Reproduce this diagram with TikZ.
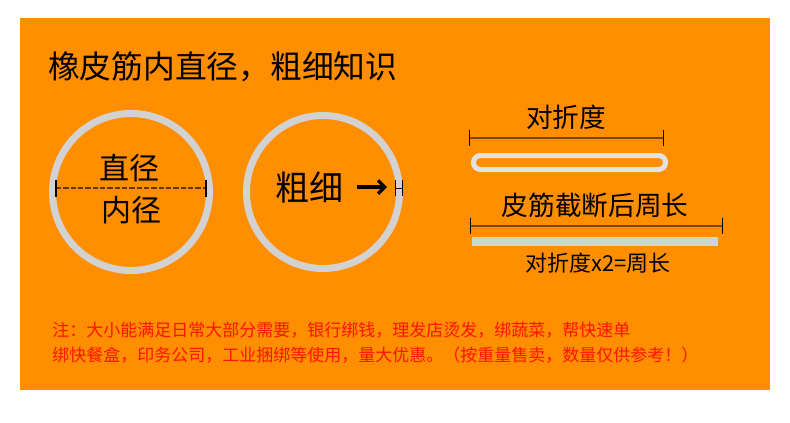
\documentclass[tikz,border=0pt]{standalone}
\usepackage{fontspec}
\setmainfont{Noto Sans CJK SC}
\usepackage{xcolor}
\usetikzlibrary{arrows.meta, calc}
\definecolor{bgorange}{HTML}{FF8E00}
\definecolor{ringgray}{HTML}{D2D2D2}
\definecolor{bargray}{HTML}{E2E2E2}
\definecolor{dimbrown}{HTML}{7A4600}
\definecolor{notered}{HTML}{FF1400}

\begin{document}
\begin{tikzpicture}[
  x=0.75pt, y=-0.75pt,
  ring/.style={draw=ringgray, line width=5.25pt},
  dimline/.style={line width=1.4pt, dimbrown,
    {Bar[width=11.5pt, line width=0.8pt, color=black]}-{Bar[width=11.5pt, line width=0.8pt, color=black]}},
  tick/.style={black, line width=0.8pt},
  title/.style={font=\fontsize{23.8pt}{28pt}\selectfont, inner sep=0pt, anchor=west},
  biglabel/.style={font=\fontsize{22.5pt}{26pt}\selectfont, inner sep=0pt},
  label/.style={font=\fontsize{20pt}{24pt}\selectfont, inner sep=0pt},
  small/.style={font=\fontsize{16.5pt}{19pt}\selectfont, inner sep=0pt},
  note/.style={font=\fontsize{12.75pt}{15pt}\selectfont, notered, inner sep=0pt, anchor=west}
]

% Page and background
\useasboundingbox (0,0) rectangle (790,422);
\fill[white] (0,0) rectangle (790,422);
\fill[bgorange] (20,18) rectangle (770,390);

% Title
\node[title] (heading) at (48,67) {橡皮筋内直径，粗细知识};

% Ring 1: inner diameter
\draw[ring] (131,192) circle (78.5);
\coordinate (diaL) at (56,188);
\coordinate (diaR) at (206,188);
\draw[line width=0.8pt, dimbrown!80!black, dash pattern=on 4pt off 1.5pt] (diaL) -- (diaR);
\draw[tick] ($(diaL)+(0,-8.5)$) -- ($(diaL)+(0,8.5)$);
\draw[tick] ($(diaR)+(0,-8.5)$) -- ($(diaR)+(0,8.5)$);
\node[biglabel] (diaTop) at (129,168) {直径};
\node[biglabel] (diaBot) at (131,210) {内径};

% Ring 2: thickness
\draw[ring] (323,192) circle (76.5);
\node[font=\fontsize{25.5pt}{30pt}\selectfont, inner sep=0pt] (thick) at (309,187) {粗细};
\coordinate (arrS) at (357,187);
\coordinate (arrE) at (387,187);
\draw[line width=2.4pt, -{Straight Barb[length=5pt, width=10pt]}] (arrS) -- (arrE);
\coordinate (thL) at (395,188);
\coordinate (thR) at (403,188);
\draw[black, line width=0.7pt, {Bar[width=12.5pt]}-{Bar[width=12.5pt]}] (thL) -- (thR);

% Folded length
\node[label] (fold) at (566,117) {对折度};
\coordinate (foldL) at (469,138);
\coordinate (foldR) at (664,138);
\draw[dimline] (foldL) -- (foldR);
\draw[draw=bargray, line width=3.75pt, rounded corners=5.2pt] (473.5,155.5) rectangle (665.5,169.5);

% Cut length
\node[label] (cut) at (595,205) {皮筋截断后周长};
\coordinate (cutL) at (470,226);
\coordinate (cutR) at (723,226);
\draw[dimline] (cutL) -- (cutR);
\fill[ringgray] (472,237) rectangle (718,246);
\node[small] (rule) at (598,263) {对折度x2=周长};

% Note
\node[note] (note1) at (52,330) {注：大小能满足日常大部分需要，银行绑钱，理发店烫发，绑蔬菜，帮快速单};
\node[note] (note2) at (52,355) {绑快餐盒，印务公司，工业捆绑等使用，量大优惠。（按重量售卖，数量仅供参考！）};

\end{tikzpicture}
\end{document}
